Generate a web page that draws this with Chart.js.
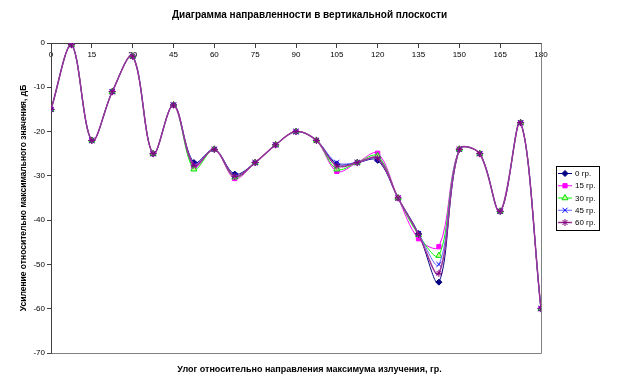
<!DOCTYPE html>
<html><head><meta charset="utf-8">
<script src="https://cdn.jsdelivr.net/npm/chart.js@4/dist/chart.umd.min.js"></script>
<style>html,body{margin:0;padding:0;background:#fff}#wrap{width:619px;height:379px}</style>
</head><body><div id="wrap"><canvas id="c" width="619" height="379"></canvas></div>
<script>
const chartTitle = 'Диаграмма направленности в вертикальной плоскости';
const xTitle = 'Улог относительно направления максимума излучения, гр.';
const yTitle = 'Усиление относительно максимального значения, дБ';
const angles = [0,7.5,15,22.5,30,37.5,45,52.5,60,67.5,75,82.5,90,97.5,105,112.5,120,127.5,135,142.5,150,157.5,165,172.5,180];
const seriesNames = ['0 гр.','15 гр.','30 гр.','45 гр.','60 гр.'];
const gain0  = [-15,-0.4,-22,-11,-3,-25,-14,-27.0,-24,-29.6,-27,-23,-20,-22,-27.3,-27,-26.5,-35,-43.0,-54,-24,-25,-38,-18,-60];
const gain15 = [-15,-0.4,-22,-11,-3,-25,-14,-28.0,-24,-30.6,-27,-23,-20,-22,-29.0,-27,-24.9,-35,-44.2,-46,-24,-25,-38,-18,-60];
const gain30 = [-15,-0.4,-22,-11,-3,-25,-14,-28.5,-24,-30.3,-27,-23,-20,-22,-28.5,-27,-25.5,-35,-43.3,-48,-24,-25,-38,-18,-60];
const gain45 = [-15,-0.4,-22,-11,-3,-25,-14,-27.3,-24,-29.9,-27,-23,-20,-22,-27.0,-27,-26.2,-35,-43.0,-50,-24,-25,-38,-18,-60];
const gain60 = [-15,-0.4,-22,-11,-3,-25,-14,-27.6,-24,-30.1,-27,-23,-20,-22,-27.8,-27,-26.0,-35,-43.2,-52,-24,-25,-38,-18,-60];
const xTicksStep = 15;
const yTicksStep = 10;

const FONT = 'Liberation Sans, Arial, sans-serif';
const gains = [gain0, gain15, gain30, gain45, gain60];
const styles = [
  {line:'#000080', fill:'#000080', stroke:'#000080', ps:'rectRot', r:3, lw:1},
  {line:'#FF00FF', fill:'#FF00FF', stroke:'#FF00FF', ps:'rect', r:3, lw:1},
  {line:'#00FF00', fill:'#CCFF99', stroke:'#00DD00', ps:'triangle', r:3.5, lw:1},
  {line:'#6666FF', fill:'#0000FF', stroke:'#0000FF', ps:'crossRot', r:3.5, lw:1},
  {line:'#993399', fill:'#800080', stroke:'#800080', ps:'star', r:3.5, lw:1.5}
];

const datasets = seriesNames.map((name, k) => ({
  label: name,
  data: angles.map((a, i) => ({x: a, y: gains[k][i]})),
  borderColor: styles[k].line,
  borderWidth: styles[k].lw,
  backgroundColor: styles[k].fill,
  pointBackgroundColor: styles[k].fill,
  pointBorderColor: styles[k].stroke,
  pointBorderWidth: 1,
  pointStyle: styles[k].ps,
  pointRadius: styles[k].r,
  tension: 0.35,
  fill: false,
  order: seriesNames.length - k
}));

const framePlugin = {
  id: 'frame',
  beforeDatasetsDraw(chart) {
    const {ctx, chartArea: a} = chart;
    ctx.save();
    ctx.strokeStyle = '#808080';
    ctx.lineWidth = 1;
    ctx.beginPath();
    ctx.moveTo(Math.round(a.left) + 0.5, Math.round(a.bottom) + 0.5);
    ctx.lineTo(Math.round(a.right) + 0.5, Math.round(a.bottom) + 0.5);
    ctx.lineTo(Math.round(a.right) + 0.5, Math.round(a.top) + 0.5);
    ctx.stroke();
    ctx.restore();
  }
};

const legendPlugin = {
  id: 'boxLegend',
  afterDraw(chart) {
    const {ctx, chartArea: a} = chart;
    const x0 = Math.round(a.right) + 15, y0 = 166, w = 43, h = 64;
    ctx.save();
    ctx.fillStyle = '#fff';
    ctx.fillRect(x0, y0, w, h);
    ctx.strokeStyle = '#000';
    ctx.lineWidth = 1;
    ctx.strokeRect(x0 + 0.5, y0 + 0.5, w, h);
    chart.data.datasets.forEach((ds, i) => {
      const y = y0 + 7.5 + i * 12.25;
      ctx.strokeStyle = ds.borderColor;
      ctx.lineWidth = ds.borderWidth;
      ctx.beginPath();
      ctx.moveTo(x0 + 2, y);
      ctx.lineTo(x0 + 16, y);
      ctx.stroke();
      ctx.fillStyle = ds.pointBackgroundColor;
      ctx.strokeStyle = ds.pointBorderColor;
      ctx.lineWidth = 1;
      Chart.helpers.drawPoint(ctx, {pointStyle: ds.pointStyle, radius: ds.pointRadius, borderWidth: 1, rotation: 0}, x0 + 9, y);
      ctx.fillStyle = '#000';
      ctx.font = '8px ' + FONT;
      ctx.textBaseline = 'middle';
      ctx.textAlign = 'left';
      ctx.fillText(ds.label, x0 + 19, y + 0.5);
    });
    ctx.restore();
  }
};

new Chart(document.getElementById('c'), {
  type: 'line',
  data: {datasets},
  options: {
    responsive: false,
    animation: false,
    devicePixelRatio: 1,
    layout: {padding: {left: 0, right: 0, top: 0, bottom: 0}},
    plugins: {
      legend: {display: false},
      tooltip: {enabled: false},
      title: {display: true, text: chartTitle, color: '#000',
        font: {family: FONT, size: 10, weight: 'bold'}, padding: {top: 9, bottom: 22}},
      subtitle: {display: true, position: 'bottom', text: xTitle, color: '#000',
        font: {family: FONT, size: 9, weight: 'bold'}, padding: {top: 11.5, bottom: 3.7}}
    },
    scales: {
      x: {
        type: 'linear', min: 0, max: 180,
        position: {y: 0},
        ticks: {stepSize: xTicksStep, color: '#000', font: {family: FONT, size: 8}, padding: 3, maxRotation: 0, autoSkip: false},
        grid: {drawOnChartArea: false, tickLength: 4, color: '#404040'},
        border: {color: '#404040', width: 1}
      },
      y: {
        type: 'linear', min: -70, max: 0, position: 'left',
        ticks: {stepSize: yTicksStep, color: '#000', font: {family: FONT, size: 8}, padding: 2},
        grid: {drawOnChartArea: false, tickLength: 4, color: '#404040'},
        border: {color: '#404040', width: 1},
        title: {display: true, text: yTitle, color: '#000', font: {family: FONT, size: 8.5, weight: 'bold'}, padding: {top: 18.5, bottom: 0}},
        afterFit(scale) { scale.width = 51; }
      },
      legendSpace: {
        type: 'linear', position: 'right', min: -70, max: 0,
        ticks: {display: false},
        grid: {display: false},
        border: {display: false},
        afterFit(scale) { scale.width = 78; }
      }
    }
  },
  plugins: [framePlugin, legendPlugin]
});
</script>
</body></html>
